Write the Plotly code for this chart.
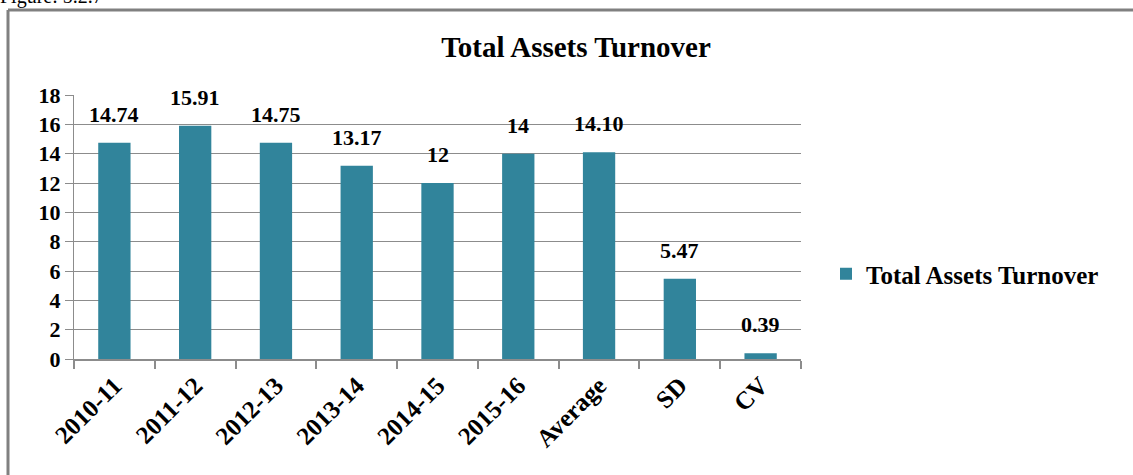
import plotly.graph_objects as go

categories = ["2010-11", "2011-12", "2012-13", "2013-14", "2014-15", "2015-16", "Average", "SD", "CV"]
values = [14.74, 15.91, 14.75, 13.17, 12, 14, 14.10, 5.47, 0.39]
value_labels = ["14.74", "15.91", "14.75", "13.17", "12", "14", "14.10", "5.47", "0.39"]
y_ticks = [0, 2, 4, 6, 8, 10, 12, 14, 16, 18]

FONT = "Liberation Serif"
BAR = "#31849B"
GRAY = "#8c8c8c"

fig = go.Figure()
fig.add_trace(go.Bar(
    x=categories, y=values, name="<b>Total Assets Turnover</b>",
    marker=dict(color=BAR, line=dict(width=0)),
    width=0.4,
))

for c, v, lab in zip(categories, values, value_labels):
    fig.add_annotation(x=c, y=v, text=f"<b>{lab}</b>", showarrow=False,
                       yanchor="bottom", yshift=14,
                       font=dict(family=FONT, size=22, color="black"))

L, R, T, B = 74, 801, 95, 359
W, H = 1133, 475

def px_x(p):
    return (p - L) / (R - L)

def px_y(p):
    return (B - p) / (B - T)

fig.update_layout(
    width=W, height=H,
    margin=dict(l=L, r=W - R, t=T, b=H - B, pad=0, autoexpand=False),
    paper_bgcolor="white", plot_bgcolor="white",
    font=dict(family=FONT, color="black"),
    title=dict(text="<b>Total Assets Turnover</b>", x=px_x(576), xanchor="center",
               xref="paper",
               y=1 - 47 / H, yanchor="middle", font=dict(family=FONT, size=29, color="black")),
    showlegend=True,
    legend=dict(x=px_x(826), y=px_y(274), xanchor="left", yanchor="middle",
                font=dict(family=FONT, size=25, color="black"),
                itemwidth=30, bgcolor="rgba(0,0,0,0)"),
    bargap=0.6,
    xaxis=dict(
        type="category", automargin=False,
        showline=True, linecolor=GRAY, linewidth=2,
        ticks="outside", tickson="boundaries", ticklen=8, tickcolor=GRAY, tickwidth=2,
        tickangle=-45, tickfont=dict(family=FONT, size=25, color="black"),
        tickvals=categories, ticktext=[f"<b>{c}</b>" for c in categories],
        showgrid=False,
    ),
    yaxis=dict(
        automargin=False,
        range=[0, 18], tickvals=y_ticks, ticktext=[f"<b>{v}</b>" for v in y_ticks],
        showline=True, linecolor=GRAY, linewidth=1,
        showgrid=True, gridcolor=GRAY, gridwidth=1,
        ticks="outside", ticklen=8, tickcolor=GRAY,
        tickfont=dict(family=FONT, size=22, color="black"),
        zeroline=False,
    ),
)

# outer frame (left and top edges)
fig.add_shape(type="line", xref="paper", yref="paper",
              x0=px_x(8), x1=px_x(8), y0=px_y(10), y1=px_y(480),
              line=dict(color="#808080", width=3))
fig.add_shape(type="line", xref="paper", yref="paper",
              x0=px_x(8), x1=px_x(1140), y0=px_y(10), y1=px_y(10),
              line=dict(color="#808080", width=3))

fig.add_annotation(text="Figure: 5.2.7", xref="paper", yref="paper",
                   x=px_x(-2), y=px_y(5), xanchor="left", yanchor="bottom", yshift=-5,
                   showarrow=False, font=dict(family=FONT, size=20, color="black"))

fig.write_html("out.html", config={"displayModeBar": False},
               post_script="document.body.style.margin='0';")
